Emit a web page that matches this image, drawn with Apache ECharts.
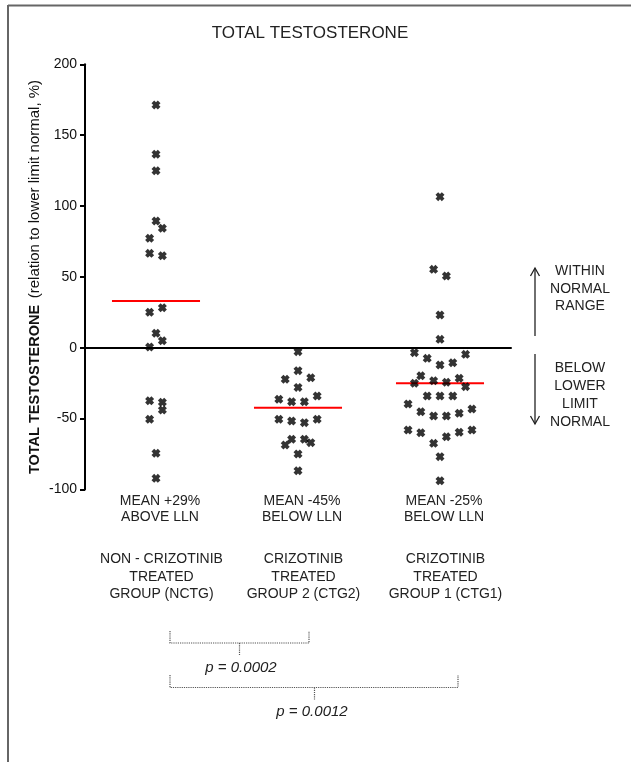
<!DOCTYPE html>
<html>
<head>
<meta charset="utf-8">
<script src="https://cdn.jsdelivr.net/npm/echarts@6/dist/echarts.min.js"></script>
<style>
html,body{margin:0;padding:0;background:#fff;}
#chart{width:631px;height:762px;}
</style>
</head>
<body>
<div id="chart"></div>
<script>
// ---- data ----
const groupNames = ['NON - CRIZOTINIB\nTREATED\nGROUP (NCTG)', 'CRIZOTINIB\nTREATED\nGROUP 2 (CTG2)', 'CRIZOTINIB\nTREATED\nGROUP 1 (CTG1)'];
const meanLabels = ['MEAN +29%\nABOVE LLN', 'MEAN -45%\nBELOW LLN', 'MEAN -25%\nBELOW LLN'];
const nctgValues = [171.3, 136.5, 124.9, 89.4, 84.3, 77.2, 66.6, 64.9, 28.2, 25.0, 10.2, 4.9, 0.5, -37.4, -38.5, -44.0, -50.5, -74.5, -92.2];
const nctgSlots  = [0, 0, 0, 0, 1, -1, -1, 1, 1, -1, 0, 1, -1, -1, 1, 1, -1, 0, 0];
const ctg2Values = [-2.8, -16.2, -22.3, -21.2, -28.0, -36.4, -38.1, -38.1, -34.1, -50.5, -51.7, -52.9, -50.5, -64.6, -64.6, -68.7, -67.0, -75.0, -86.8];
const ctg2Slots  = [0, 0, -2, 2, 0, -3, -1, 1, 3, -3, -1, 1, 3, -1, 1, -2, 2, 0, 0];
const ctg1Values = [106.6, 55.3, 50.6, 23.1, 5.9, -3.5, -7.5, -12.2, -10.6, -4.7, -19.8, -25.1, -23.3, -24.4, -21.6, -27.5, -34.1, -34.1, -34.1, -39.7, -45.2, -48.2, -48.2, -46.3, -43.3, -58.1, -60.0, -67.5, -62.8, -59.7, -58.1, -76.9, -93.9];
const ctg1Slots  = [0, -1, 1, 0, 0, -4, -2, 0, 2, 4, -3, -4, -1, 1, 3, 4, -2, 0, 2, -5, -3, -1, 1, 3, 5, -5, -3, -1, 1, 3, 5, 0, 0];
const groupMeans = [33, -42.3, -25.1];
const pValues = ['p = 0.0002', 'p = 0.0012'];
const yMin = -100, yMax = 200, yInterval = 50;

// ---- build ----
const FONT = '"Liberation Sans", Arial, sans-serif';
const SLOT = 0.045;
const xMark = 'path://M0,3 L3,0 L5,2 L7,0 L10,3 L8,5 L10,7 L7,10 L5,8 L3,10 L0,7 L2,5 Z';
const groups = [[nctgValues, nctgSlots], [ctg2Values, ctg2Slots], [ctg1Values, ctg1Slots]];

const series = [];
groups.forEach(function (g, i) {
  series.push({
    type: 'scatter',
    symbol: xMark,
    symbolSize: 9,
    itemStyle: { color: '#000' },
    data: g[0].map(function (v, k) { return [i + 1 + g[1][k] * SLOT, v]; }),
    z: 5
  });
  series.push({
    type: 'line',
    symbol: 'none',
    lineStyle: { color: '#ff0000', width: 2 },
    data: [[i + 1 - 0.31, groupMeans[i]], [i + 1 + 0.31, groupMeans[i]]],
    z: 4
  });
});

const labelCenters = [160, 302, 444];
const graphics = [
  // frame
  { type: 'line', shape: { x1: 8, y1: 5.5, x2: 631, y2: 5.5 }, style: { stroke: '#666', lineWidth: 2 } },
  { type: 'line', shape: { x1: 8, y1: 5, x2: 8, y2: 762 }, style: { stroke: '#666', lineWidth: 2 } },
  // title
  { type: 'text', x: 310, y: 33, style: { text: 'TOTAL TESTOSTERONE', font: '17px ' + FONT, fill: '#222', align: 'center', verticalAlign: 'middle' } },
  // y-axis name
  { type: 'text', x: 35, y: 277, rotation: Math.PI / 2,
    style: { text: '{b|TOTAL TESTOSTERONE}  {r|(relation to lower limit normal, %)}', align: 'center', verticalAlign: 'middle',
      rich: { b: { font: 'bold 14.5px ' + FONT, fill: '#111' }, r: { font: '15px ' + FONT, fill: '#111' } } } },
  // arrows
  { type: 'line', shape: { x1: 535, y1: 268, x2: 535, y2: 336 }, style: { stroke: '#222', lineWidth: 1.3 } },
  { type: 'polyline', shape: { points: [[530.5, 276], [535, 268], [539.5, 276]] }, style: { stroke: '#222', lineWidth: 1.3, fill: null } },
  { type: 'line', shape: { x1: 535, y1: 354, x2: 535, y2: 424 }, style: { stroke: '#222', lineWidth: 1.3 } },
  { type: 'polyline', shape: { points: [[530.5, 416], [535, 424], [539.5, 416]] }, style: { stroke: '#222', lineWidth: 1.3, fill: null } },
  { type: 'text', x: 580, y: 289, style: { text: 'WITHIN\nNORMAL\nRANGE', font: '14px ' + FONT, lineHeight: 17.5, fill: '#222', align: 'center', verticalAlign: 'middle' } },
  { type: 'text', x: 580, y: 395.5, style: { text: 'BELOW\nLOWER\nLIMIT\nNORMAL', font: '14px ' + FONT, lineHeight: 18, fill: '#222', align: 'center', verticalAlign: 'middle' } },
  // brackets
  { type: 'polyline', shape: { points: [[170, 631], [170, 643], [309, 643], [309, 631]] }, style: { stroke: '#555', lineWidth: 1.2, lineDash: [1.2, 1], fill: null } },
  { type: 'line', shape: { x1: 239.5, y1: 643, x2: 239.5, y2: 655 }, style: { stroke: '#555', lineWidth: 1.2, lineDash: [1.2, 1] } },
  { type: 'text', x: 241, y: 668, style: { text: pValues[0], font: 'italic 15px ' + FONT, fill: '#222', align: 'center', verticalAlign: 'middle' } },
  { type: 'polyline', shape: { points: [[170, 675], [170, 687.5], [458, 687.5], [458, 675]] }, style: { stroke: '#555', lineWidth: 1.2, lineDash: [1.2, 1], fill: null } },
  { type: 'line', shape: { x1: 314.5, y1: 687.5, x2: 314.5, y2: 699.5 }, style: { stroke: '#555', lineWidth: 1.2, lineDash: [1.2, 1] } },
  { type: 'text', x: 312, y: 711.5, style: { text: pValues[1], font: 'italic 15px ' + FONT, fill: '#222', align: 'center', verticalAlign: 'middle' } }
];
meanLabels.forEach(function (t, i) {
  graphics.push({ type: 'text', x: labelCenters[i], y: 509, style: { text: t, font: '14px ' + FONT, lineHeight: 16.6, fill: '#222', align: 'center', verticalAlign: 'middle' } });
});
groupNames.forEach(function (t, i) {
  graphics.push({ type: 'text', x: labelCenters[i] + 1.5, y: 576.7, style: { text: t, font: '14px ' + FONT, lineHeight: 17.3, fill: '#222', align: 'center', verticalAlign: 'middle' } });
});

const chart = echarts.init(document.getElementById('chart'), null, { renderer: 'canvas' });
chart.setOption({
  backgroundColor: '#fff',
  animation: false,
  grid: { left: 85, top: 64.3, width: 426, height: 425.1, containLabel: false },
  xAxis: {
    type: 'value', min: 0.5, max: 3.5,
    axisLine: { onZero: true, lineStyle: { color: '#000', width: 2 } },
    axisTick: { show: false }, axisLabel: { show: false }, splitLine: { show: false }
  },
  yAxis: {
    type: 'value', min: yMin, max: yMax, interval: yInterval,
    axisLine: { show: true, onZero: false, lineStyle: { color: '#000', width: 2 } },
    axisTick: { show: true, length: 5, lineStyle: { color: '#000', width: 2 } },
    axisLabel: { margin: 8, color: '#111', fontSize: 14, fontFamily: FONT },
    splitLine: { show: false }
  },
  series: series,
  graphic: graphics
});
</script>
</body>
</html>
